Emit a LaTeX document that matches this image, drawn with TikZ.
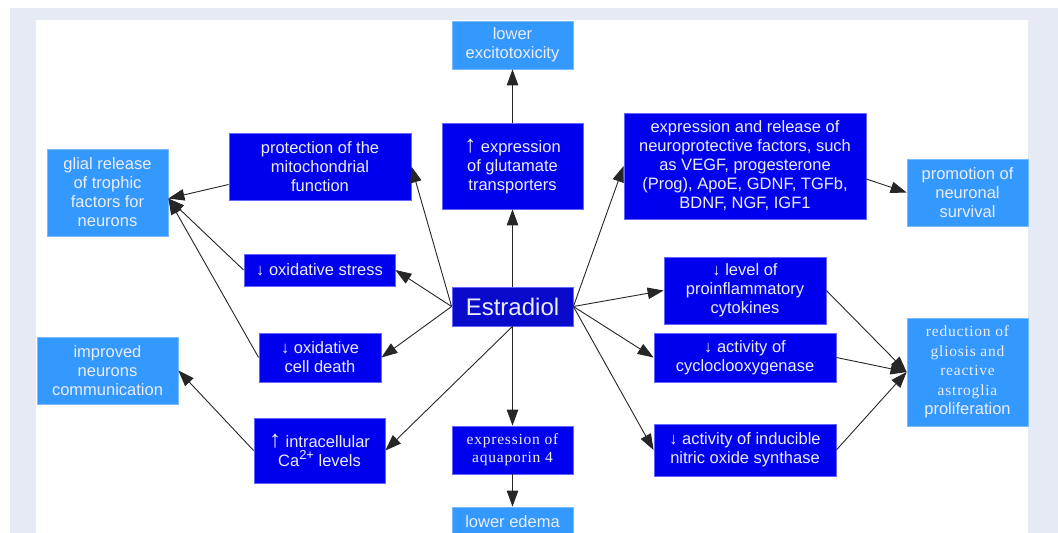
\documentclass[tikz,border=0pt]{standalone}
\usepackage{fontspec}
\setmainfont{Liberation Sans}
\newfontfamily\serifls[LetterSpace=5]{Liberation Serif}
\usetikzlibrary{arrows.meta,calc}
\definecolor{bgband}{RGB}{230,234,245}
\definecolor{dkblue}{RGB}{0,0,238}
\definecolor{estblue}{RGB}{10,10,204}
\definecolor{ltblue}{RGB}{51,153,255}
\definecolor{txt}{RGB}{236,236,255}
\definecolor{dkedge}{RGB}{100,100,255}
\definecolor{ltedge}{RGB}{120,185,255}
\newcommand{\upar}{{\fontsize{24}{19}\selectfont ↑}}
\newcommand{\dnar}{↓}
\begin{document}
\begin{tikzpicture}[x=1pt,y=-1pt,
 box/.style={rectangle, inner sep=0pt, align=center, text=txt, font=\fontsize{16.5}{19}\selectfont, line width=0.8pt},
 dk/.style={box, fill=dkblue, draw=dkedge},
 lt/.style={box, fill=ltblue, draw=ltedge},
 sz/.style 2 args={minimum width=#1pt, minimum height=#2pt},
 conn/.style={draw=black!85, line width=0.9pt, -{Triangle[length=16pt,width=11.5pt]}},
]
\useasboundingbox (0,0) rectangle (1058,533);
\begin{scope}
\clip (0,0) rectangle (1058,533);
\fill[bgband] (10,8) rectangle (1058,533);
\fill[white] (36,20) rectangle (1028,533);

\node[lt, sz={121}{48}] (exc) at (512.5,45) {lower\\excitotoxicity};
\node[dk, sz={141}{86}] (glu) at (512.5,166) {\upar\ expression\\of glutamate\\transporters};
\node[dk, sz={182}{67}] (mito) at (320,166.5) {protection of the\\mitochondrial\\function};
\node[lt, sz={121}{87}] (glial) at (107.5,192.5) {glial release\\of trophic\\factors for\\neurons};
\node[dk, sz={242}{106}] (expr) at (745,166) {expression and release of\\neuroprotective factors, such\\as VEGF, progesterone\\(Prog), ApoE, GDNF, TGFb,\\BDNF, NGF, IGF1};
\node[lt, sz={121}{67}] (prom) at (967.5,192.5) {promotion of\\neuronal\\survival};
\node[dk, sz={151}{32}] (ostress) at (319.5,270) {\dnar\ oxidative stress};
\node[dk, sz={122}{49}] (ocd) at (320,357.5) {\dnar\ oxidative\\cell death};
\node[dk, sz={131}{65}] (ca) at (319.5,450.5) {\upar\ intracellular\\Ca\raisebox{7pt}{\fontsize{13}{13}\selectfont 2+} levels};
\node[lt, sz={141}{67}] (impr) at (107.5,370.5) {improved\\neurons\\communication};
\node[box, fill=estblue, draw=dkedge, sz={121}{39}, font=\fontsize{24}{28}\selectfont] (estr) at (512.5,306.5) {Estradiol};
\node[dk, sz={121}{48}, font=\fontsize{15.5}{18.3}\selectfont\serifls] (aqua) at (512.5,450) {expression of\\aquaporin 4};
\node[lt, sz={121}{30}] (edema) at (512.5,522) {lower edema};
\node[dk, sz={162}{67}] (cyto) at (745,290.5) {\dnar\ level of\\proinflammatory\\cytokines};
\node[dk, sz={182}{49}] (cox) at (745,357.5) {\dnar\ activity of\\cycloclooxygenase};
\node[dk, sz={182}{52}] (inos) at (745,450) {\dnar\ activity of inducible\\nitric oxide synthase};
\node[lt, sz={121}{108}, font=\fontsize{15.5}{19.4}\selectfont\serifls] (red) at (967.5,372) {reduction of\\gliosis and\\reactive\\astroglia\\\fontsize{16.5}{19.4}\selectfont\normalfont proliferation};

\coordinate (gin) at ($(glial.east)+(0,6)$);

\draw[conn] (glu.north) -- (exc.south);
\draw[conn] (estr.north) -- (glu.south);
\draw[conn] (estr.west) -- (mito.east);
\draw[conn] (estr.west) -- (ostress.east);
\draw[conn] (estr.west) -- (ocd.east);
\draw[conn] (estr.south) -- (ca.east);
\draw[conn] (estr.south) -- (aqua.north);
\draw[conn] (aqua.south) -- (edema.north);
\draw[conn] (estr.east) -- (expr.west);
\draw[conn] (estr.east) -- (cyto.west);
\draw[conn] (estr.east) -- (cox.west);
\draw[conn] (estr.east) -- (inos.west);
\draw[conn] ($(expr.east)+(0,13)$) -- (prom.west);
\draw[conn] ($(mito.west)+(0,18)$) -- (gin);
\draw[conn] (ostress.west) -- (gin);
\draw[conn] (ocd.west) -- (gin);
\draw[conn] (ca.west) -- (impr.east);
\draw[conn] (cyto.east) -- (red.west);
\draw[conn] (cox.east) -- (red.west);
\draw[conn] (inos.east) -- (red.west);
\end{scope}
\end{tikzpicture}
\end{document}
